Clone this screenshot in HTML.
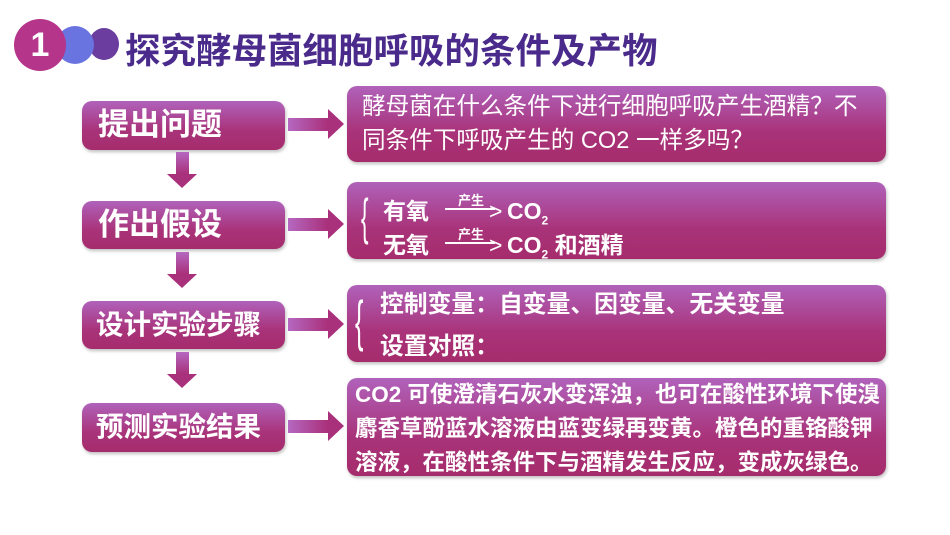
<!DOCTYPE html>
<html><head><meta charset="utf-8"><style>
body{margin:0;width:950px;height:535px;background:#fff;position:relative;overflow:hidden;font-family:"Liberation Sans","Noto Sans CJK SC",sans-serif;}
.a{position:absolute;white-space:nowrap}
.box{position:absolute;border-radius:10px;background:linear-gradient(#b062bb,#a9337a 60%,#a52c6c);color:#fff;box-shadow:1px 2px 3px rgba(0,0,0,.25)}
.lb{left:82px;width:203px;font-weight:bold;line-height:48px;padding-left:16px;box-sizing:border-box;white-space:nowrap}
.rb{left:347px;width:539px;font-size:22px;box-sizing:border-box;white-space:nowrap}
.ra{position:absolute;left:288px;width:40px;height:13px;background:linear-gradient(90deg,#b568c0,#a9307a)}
.ra:after{content:"";position:absolute;left:40px;top:-9px;border-left:16px solid #a9307a;border-top:15.5px solid transparent;border-bottom:15.5px solid transparent}
.da{position:absolute;left:176px;width:13px;height:22px;background:linear-gradient(#b568c0,#a9307a)}
.da:after{content:"";position:absolute;top:22px;left:-9px;border-top:14px solid #a9307a;border-left:15.5px solid transparent;border-right:15.5px solid transparent}
.b{font-weight:bold}
</style></head><body>
<div class="a" style="left:14px;top:19px;width:52px;height:52px;border-radius:50%;background:#b4358a;z-index:3;color:#fff;font-size:34px;font-weight:bold;text-align:center;line-height:52px">1</div>
<div class="a" style="left:56px;top:26px;width:38px;height:38px;border-radius:50%;background:#6a74e0;z-index:2"></div>
<div class="a" style="left:89px;top:28px;width:30px;height:32px;border-radius:50%;background:#6a3d9f;z-index:1"></div>
<div class="a" style="left:125px;top:31px;font-size:35.5px;font-weight:bold;color:#4a2b8c;line-height:40px">探究酵母菌细胞呼吸的条件及产物</div>

<div class="box lb" style="top:101px;height:49px;font-size:31px">提出问题</div>
<div class="box lb" style="top:201px;height:48px;font-size:31px">作出假设</div>
<div class="box lb" style="top:301px;height:48px;font-size:27.5px;padding-left:14px">设计实验步骤</div>
<div class="box lb" style="top:403px;height:49px;font-size:27.5px;padding-left:14px">预测实验结果</div>

<div class="da" style="top:152px"></div>
<div class="da" style="top:252px"></div>
<div class="da" style="top:352px"></div>

<div class="ra" style="top:118px"></div>
<div class="ra" style="top:218px"></div>
<div class="ra" style="top:318px"></div>
<div class="ra" style="top:420px"></div>

<div class="box rb" style="top:86px;height:76px;padding:4px 0 0 15px;line-height:34px;font-size:23.6px">酵母菌在什么条件下进行细胞呼吸产生酒精？不<br>同条件下呼吸产生的 CO2 一样多吗？</div>

<div class="box rb b" style="top:182px;height:77px;font-size:23px">
<div class="a" style="left:14px;top:10px;font-size:50px;font-weight:normal;line-height:50px;transform:scaleX(.45);transform-origin:left">{</div>
<div class="a" style="left:36px;top:16px;line-height:26px">有氧</div>
<div class="a" style="left:36px;top:50px;line-height:26px">无氧</div>
<div class="a" style="left:98px;top:8px;font-size:13px;width:52px;text-align:center">产生</div>
<div class="a" style="left:98px;top:42px;font-size:13px;width:52px;text-align:center">产生</div>
<div class="a" style="left:98px;top:26px;width:50px;height:2px;background:#fff"></div>
<div class="a" style="left:98px;top:60px;width:50px;height:2px;background:#fff"></div>
<div class="a" style="left:142px;top:16px;line-height:26px;font-weight:normal">&gt;</div>
<div class="a" style="left:142px;top:50px;line-height:26px;font-weight:normal">&gt;</div>
<div class="a" style="left:160px;top:16px;line-height:26px">CO<sub style="font-size:12px">2</sub></div>
<div class="a" style="left:160px;top:50px;line-height:26px">CO<sub style="font-size:12px">2</sub> 和酒精</div>
</div>

<div class="box rb b" style="top:285px;height:77px;font-size:23.8px">
<div class="a" style="left:8px;top:8px;font-size:56px;font-weight:normal;line-height:56px;transform:scaleX(.45);transform-origin:left">{</div>
<div class="a" style="left:33px;top:6px;line-height:28px">控制变量：自变量、因变量、无关变量</div>
<div class="a" style="left:33px;top:48px;line-height:28px">设置对照：</div>
</div>

<div class="box rb b" style="top:378px;height:98px;padding:0 0 0 8px;line-height:34px;font-size:22.5px">CO2 可使澄清石灰水变浑浊，也可在酸性环境下使溴<br>麝香草酚蓝水溶液由蓝变绿再变黄。橙色的重铬酸钾<br>溶液，在酸性条件下与酒精发生反应，变成灰绿色。</div>
</body></html>
